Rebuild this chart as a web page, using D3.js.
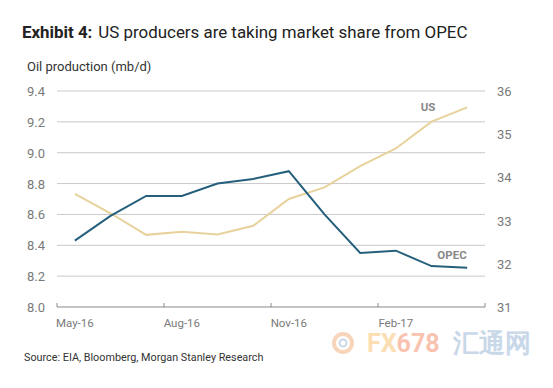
<!DOCTYPE html>
<html>
<head>
<meta charset="utf-8">
<script src="https://cdn.jsdelivr.net/npm/d3@7"></script>
<style>
  body { margin: 0; background: #fff; }
  svg text { font-family: Roboto, "Liberation Sans", sans-serif; }
</style>
</head>
<body>
<div id="container"></div>
<script>
"use strict";

const width = 553;
const height = 388;

// monthly categories, May-16 .. Apr-17
const months = ["May-16", "Jun-16", "Jul-16", "Aug-16", "Sep-16", "Oct-16",
                "Nov-16", "Dec-16", "Jan-17", "Feb-17", "Mar-17", "Apr-17"];
const tickMonths = ["May-16", "Aug-16", "Nov-16", "Feb-17"];

// OPEC production, left axis (mb/d)
const opecValues = [8.43, 8.59, 8.72, 8.72, 8.80, 8.83, 8.88, 8.60, 8.35, 8.365, 8.265, 8.255];
// US production, right axis
const usValues = [33.62, 33.17, 32.67, 32.74, 32.68, 32.88, 33.50, 33.77, 34.26, 34.67, 35.29, 35.62];

const leftTicks = [8.0, 8.2, 8.4, 8.6, 8.8, 9.0, 9.2, 9.4];
const rightTicks = [31, 32, 33, 34, 35, 36];

const opecColor = "#245f7c";
const usColor = "#e8d29c";

const svg = d3.select("#container").append("svg")
    .attr("width", width)
    .attr("height", height);

// plot area
const x0 = 57, x1 = 485, yTop = 91, yBot = 307;

const x = d3.scaleBand().domain(months).range([x0, x1]).padding(0);
const yL = d3.scaleLinear().domain([8.0, 9.4]).range([yBot, yTop]);
const yR = d3.scaleLinear().domain([31, 36]).range([yBot, yTop]);

// title
const title = svg.append("text")
    .attr("x", 22).attr("y", 38)
    .attr("font-size", 16.9)
    .attr("fill", "#222");
title.append("tspan").attr("font-weight", "bold").text("Exhibit 4:");
title.append("tspan").attr("dx", 6).text("US producers are taking market share from OPEC");

svg.append("text")
    .attr("x", 27).attr("y", 71)
    .attr("font-size", 13)
    .attr("fill", "#333")
    .text("Oil production (mb/d)");

// gridlines
svg.append("g")
    .selectAll("line")
    .data(leftTicks.slice(1))
    .enter()
    .append("line")
    .attr("x1", x0).attr("x2", x1)
    .attr("y1", d => yL(d)).attr("y2", d => yL(d))
    .style("stroke", "#c9c9c9")
    .style("stroke-width", 1);

// left axis labels
svg.append("g")
    .selectAll("text")
    .data(leftTicks)
    .enter()
    .append("text")
    .attr("x", 45).attr("y", d => yL(d) + 5)
    .attr("text-anchor", "end")
    .attr("font-size", 13)
    .attr("fill", "#7a7a7a")
    .text(d => d.toFixed(1));

// right axis labels
svg.append("g")
    .selectAll("text")
    .data(rightTicks)
    .enter()
    .append("text")
    .attr("x", 497).attr("y", d => yR(d) + 5)
    .attr("font-size", 13)
    .attr("fill", "#7a7a7a")
    .text(d => d);

// bottom axis
const xAxis = svg.append("g").attr("transform", "translate(0," + yBot + ")");
xAxis.append("line")
    .attr("x1", x0).attr("x2", x1)
    .style("stroke", "#888").style("stroke-width", 1);
xAxis.selectAll(".tick")
    .data(tickMonths.concat(["end"]))
    .enter()
    .append("line")
    .attr("x1", d => d === "end" ? x1 : x(d))
    .attr("x2", d => d === "end" ? x1 : x(d))
    .attr("y1", 0).attr("y2", -4)
    .style("stroke", "#888");
xAxis.selectAll("text")
    .data(tickMonths)
    .enter()
    .append("text")
    .attr("x", d => x(d) + x.bandwidth() / 2)
    .attr("y", 20)
    .attr("text-anchor", "middle")
    .attr("font-size", 11.5)
    .attr("fill", "#7a7a7a")
    .text(d => d);

const cx = (d, i) => x(months[i]) + x.bandwidth() / 2;

// US line
svg.append("path")
    .datum(usValues)
    .attr("fill", "none")
    .attr("stroke", usColor)
    .attr("stroke-width", 2)
    .attr("d", d3.line().x(cx).y(d => yR(d)));

// OPEC line
svg.append("path")
    .datum(opecValues)
    .attr("fill", "none")
    .attr("stroke", opecColor)
    .attr("stroke-width", 2)
    .attr("d", d3.line().x(cx).y(d => yL(d)));

// series labels
svg.append("text")
    .attr("x", 428).attr("y", 111)
    .attr("text-anchor", "middle")
    .attr("font-size", 11.5).attr("font-weight", "bold")
    .attr("fill", "#888")
    .text("US");
svg.append("text")
    .attr("x", 452).attr("y", 259)
    .attr("text-anchor", "middle")
    .attr("font-size", 11.5).attr("font-weight", "bold")
    .attr("fill", "#888")
    .text("OPEC");

// source
svg.append("text")
    .attr("x", 24).attr("y", 361)
    .attr("font-size", 10.8)
    .attr("fill", "#333")
    .text("Source: EIA, Bloomberg, Morgan Stanley Research");

// watermark
const wm = svg.append("g").attr("opacity", 0.75);
wm.append("circle")
    .attr("cx", 343).attr("cy", 343).attr("r", 9)
    .attr("fill", "none").attr("stroke", "#f6c7a4").attr("stroke-width", 4);
wm.append("circle")
    .attr("cx", 343).attr("cy", 343).attr("r", 3.5)
    .attr("fill", "none").attr("stroke", "#b9cbe0").attr("stroke-width", 2);
const wmText = wm.append("text")
    .attr("x", 367).attr("y", 352)
    .attr("font-size", 25)
    .attr("font-family", "'DejaVu Sans Condensed', 'Liberation Sans Narrow', sans-serif")
    .attr("font-weight", "bold");
wmText.append("tspan").attr("fill", "#fbd39a").text("FX");
wmText.append("tspan").attr("fill", "#f6ae95").text("678");
wm.append("text")
    .attr("x", 453).attr("y", 352)
    .attr("font-size", 26)
    .attr("font-family", "'Noto Sans CJK SC', sans-serif")
    .attr("font-weight", "bold")
    .attr("fill", "#b6cbe2")
    .text("汇通网");
</script>
</body>
</html>
